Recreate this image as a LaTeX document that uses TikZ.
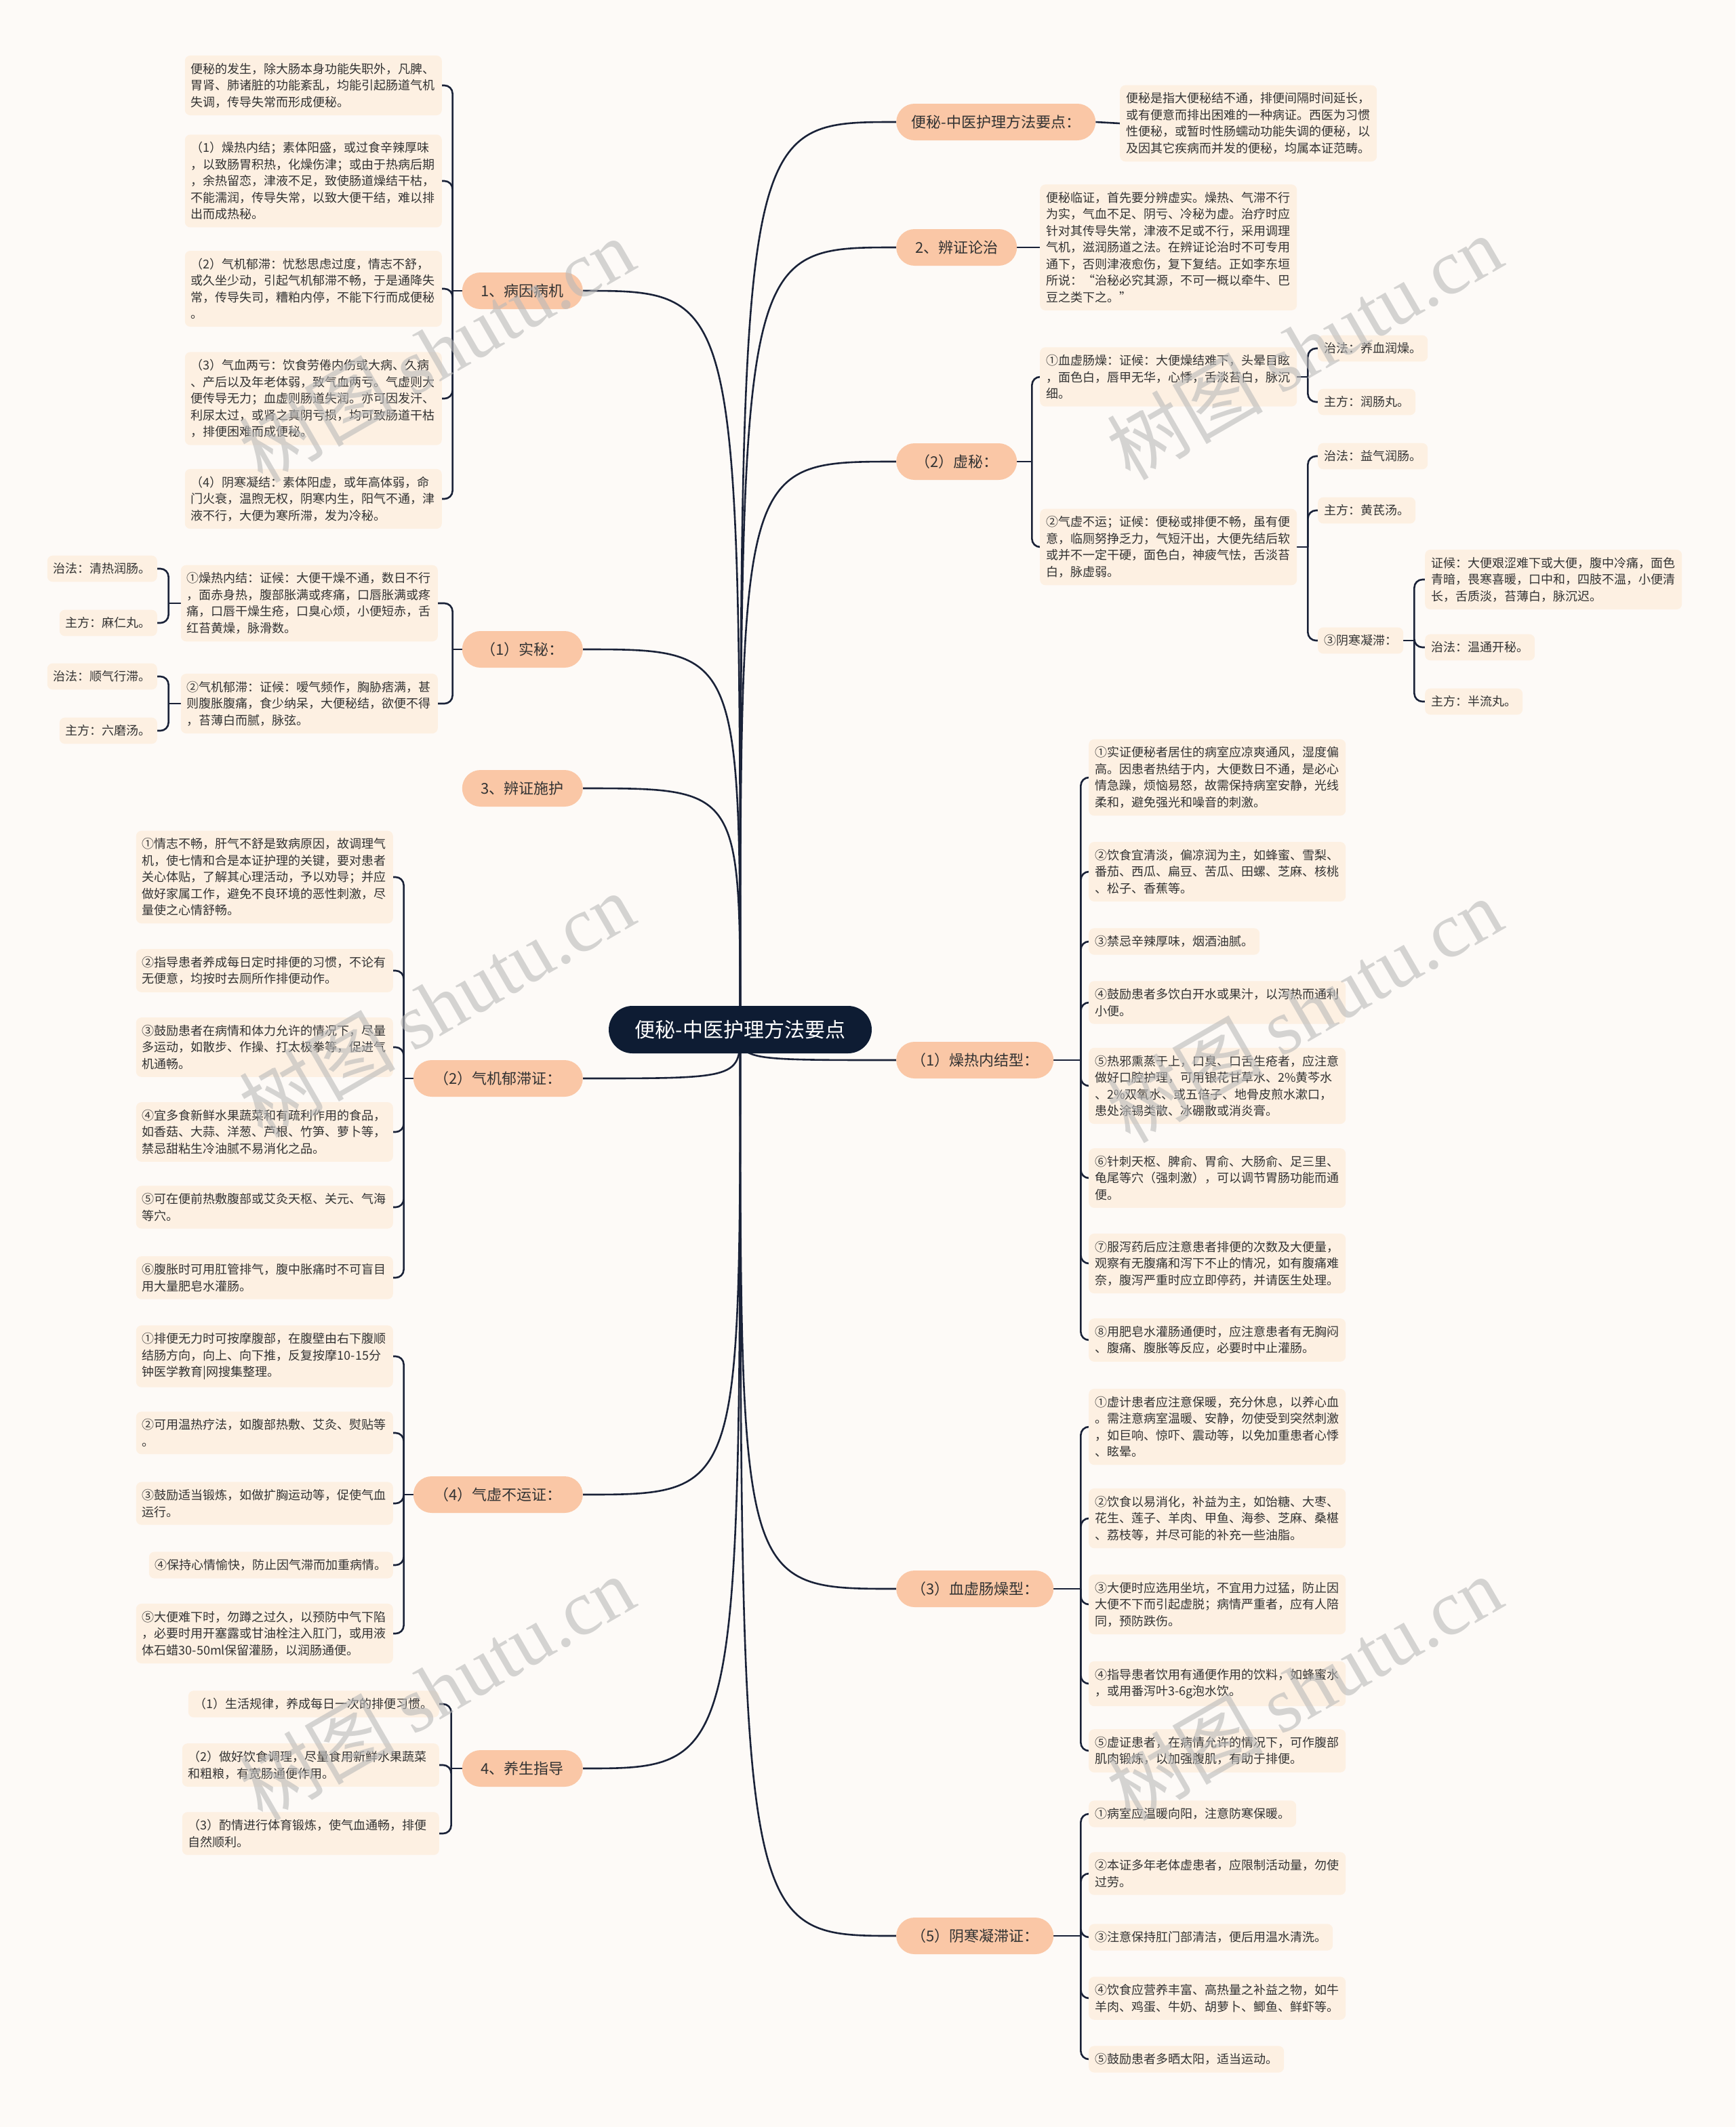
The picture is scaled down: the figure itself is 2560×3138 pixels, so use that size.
\documentclass[tikz,border=0pt]{standalone}
\usepackage{fontspec}
\setmainfont{Noto Sans CJK SC}
\newfontfamily\wmlatin{Liberation Serif}
\usetikzlibrary{calc}
\pgfdeclarelayer{bglayer}
\pgfsetlayers{bglayer,main}
\definecolor{bgc}{HTML}{FDFAF7}
\definecolor{boxfill}{HTML}{FDF0E2}
\definecolor{pillc}{HTML}{FAC7A6}
\definecolor{linec}{HTML}{1A2238}
\definecolor{centralc}{HTML}{0E1C33}
\definecolor{txtc}{HTML}{333333}
\begin{document}
\begin{tikzpicture}[x=1pt,y=-1pt,
  leaf/.style={fill=boxfill, rounded corners=8pt, inner xsep=9pt, inner ysep=11pt, font=\fontsize{18}{24.5}\selectfont, text=txtc, align=left},
  wleaf/.style={leaf, text width=361pt},
  lone/.style={fill=pillc, rounded corners=27pt, minimum height=54pt, inner sep=0pt, font=\fontsize{22}{26}\selectfont, text=txtc},
  centralnode/.style={fill=centralc, rounded corners=35pt, minimum height=70pt, minimum width=388pt, inner sep=0pt, font=\fontsize{30}{34}\selectfont, text=white},
  mainconn/.style={draw=linec, line width=2.6pt},
  brconn/.style={draw=linec, line width=2.6pt, rounded corners=12pt},
  wm/.style={text=gray!55, opacity=0.6, font=\fontsize{115}{120}\selectfont, rotate=30, inner sep=0pt}
]
\begin{pgfonlayer}{bglayer}
\fill[bgc] (0,0) rectangle (2560,3138);
\end{pgfonlayer}
\useasboundingbox (0,0) rectangle (2560,3138);

% central
\node[centralnode] (c) at (1092,1519) {便秘-中医护理方法要点};

% level 1 left
\node[lone, minimum width=178pt, anchor=east] (n1) at (860,429) {1、病因病机};
\node[lone, minimum width=178pt, anchor=east] (n2) at (860,958) {（1）实秘：};
\node[lone, minimum width=178pt, anchor=east] (n3) at (860,1163) {3、辨证施护};
\node[lone, minimum width=250pt, anchor=east] (n4) at (860,1591) {（2）气机郁滞证：};
\node[lone, minimum width=250pt, anchor=east] (n5) at (860,2205) {（4）气虚不运证：};
\node[lone, minimum width=178pt, anchor=east] (n6) at (860,2609) {4、养生指导};

% level 1 right
\node[lone, minimum width=294pt, anchor=west] (m1) at (1322,180) {便秘-中医护理方法要点：};
\node[lone, minimum width=178pt, anchor=west] (m2) at (1322,365) {2、辨证论治};
\node[lone, minimum width=178pt, anchor=west] (m3) at (1322,681) {（2）虚秘：};
\node[lone, minimum width=232pt, anchor=west] (m4) at (1322,1564) {（1）燥热内结型：};
\node[lone, minimum width=232pt, anchor=west] (m5) at (1322,2344) {（3）血虚肠燥型：};
\node[lone, minimum width=232pt, anchor=west] (m6) at (1322,2856) {（5）阴寒凝滞证：};

% 病因病机 leaves
\node[wleaf, anchor=east] (a1) at (652,126) {便秘的发生，除大肠本身功能失职外，凡脾、\\胃肾、肺诸脏的功能紊乱，均能引起肠道气机\\失调，传导失常而形成便秘。};
\node[wleaf, anchor=east] (a2) at (652,267) {（1）燥热内结；素体阳盛，或过食辛辣厚味\\，以致肠胃积热，化燥伤津；或由于热病后期\\，余热留恋，津液不足，致使肠道燥结干枯，\\不能濡润，传导失常，以致大便干结，难以排\\出而成热秘。};
\node[wleaf, anchor=east] (a3) at (652,426) {（2）气机郁滞：忧愁思虑过度，情志不舒，\\或久坐少动，引起气机郁滞不畅，于是通降失\\常，传导失司，糟粕内停，不能下行而成便秘\\。};
\node[wleaf, anchor=east] (a4) at (652,588) {（3）气血两亏：饮食劳倦内伤或大病、久病\\、产后以及年老体弱，致气血两亏。气虚则大\\便传导无力；血虚则肠道失润。亦可因发汗、\\利尿太过，或肾之真阴亏损，均可致肠道干枯\\，排便困难而成便秘。};
\node[wleaf, anchor=east] (a5) at (652,736) {（4）阴寒凝结：素体阳虚，或年高体弱，命\\门火衰，温煦无权，阴寒内生，阳气不通，津\\液不行，大便为寒所滞，发为冷秘。};

% 实秘 leaves
\node[wleaf, anchor=east] (b1) at (646,890) {①燥热内结：证候：大便干燥不通，数日不行\\，面赤身热，腹部胀满或疼痛，口唇胀满或疼\\痛，口唇干燥生疮，口臭心烦，小便短赤，舌\\红苔黄燥，脉滑数。};
\node[wleaf, anchor=east] (b2) at (646,1038) {②气机郁滞：证候：嗳气频作，胸胁痞满，甚\\则腹胀腹痛，食少纳呆，大便秘结，欲便不得\\，苔薄白而腻，脉弦。};
\node[leaf, anchor=east] (b1x) at (232,839) {治法：清热润肠。};
\node[leaf, anchor=east] (b1y) at (232,919) {主方：麻仁丸。};
\node[leaf, anchor=east] (b2x) at (232,998) {治法：顺气行滞。};
\node[leaf, anchor=east] (b2y) at (232,1078) {主方：六磨汤。};

% 气机郁滞证 leaves
\node[wleaf, anchor=east] (c1) at (580,1294) {①情志不畅，肝气不舒是致病原因，故调理气\\机，使七情和合是本证护理的关键，要对患者\\关心体贴，了解其心理活动，予以劝导；并应\\做好家属工作，避免不良环境的恶性刺激，尽\\量使之心情舒畅。};
\node[wleaf, anchor=east] (c2) at (580,1432) {②指导患者养成每日定时排便的习惯，不论有\\无便意，均按时去厕所作排便动作。};
\node[wleaf, anchor=east] (c3) at (580,1545) {③鼓励患者在病情和体力允许的情况下，尽量\\多运动，如散步、作操、打太极拳等，促进气\\机通畅。};
\node[wleaf, anchor=east] (c4) at (580,1670) {④宜多食新鲜水果蔬菜和有疏利作用的食品，\\如香菇、大蒜、洋葱、芦根、竹笋、萝卜等，\\禁忌甜粘生冷油腻不易消化之品。};
\node[wleaf, anchor=east] (c5) at (580,1781) {⑤可在便前热敷腹部或艾灸天枢、关元、气海\\等穴。};
\node[wleaf, anchor=east] (c6) at (580,1885) {⑥腹胀时可用肛管排气，腹中胀痛时不可盲目\\用大量肥皂水灌肠。};

% 气虚不运证 leaves
\node[wleaf, anchor=east] (d1) at (580,2001) {①排便无力时可按摩腹部，在腹壁由右下腹顺\\结肠方向，向上、向下推，反复按摩10-15分\\钟医学教育|网搜集整理。};
\node[wleaf, anchor=east] (d2) at (580,2114) {②可用温热疗法，如腹部热敷、艾灸、熨贴等\\。};
\node[wleaf, anchor=east] (d3) at (580,2218) {③鼓励适当锻炼，如做扩胸运动等，促使气血\\运行。};
\node[leaf, anchor=east] (d4) at (580,2309) {④保持心情愉快，防止因气滞而加重病情。};
\node[wleaf, anchor=east] (d5) at (580,2410) {⑤大便难下时，勿蹲之过久，以预防中气下陷\\，必要时用开塞露或甘油栓注入肛门，或用液\\体石蜡30-50ml保留灌肠，以润肠通便。};

% 养生指导 leaves
\node[leaf, anchor=east] (e1) at (648,2514) {（1）生活规律，养成每日一次的排便习惯。};
\node[wleaf, anchor=east] (e2) at (648,2604) {（2）做好饮食调理，尽量食用新鲜水果蔬菜\\和粗粮，有宽肠通便作用。};
\node[wleaf, anchor=east] (e3) at (648,2705) {（3）酌情进行体育锻炼，使气血通畅，排便\\自然顺利。};

% right leaves
\node[wleaf, anchor=west] (f1) at (1652,182) {便秘是指大便秘结不通，排便间隔时间延长，\\或有便意而排出困难的一种病证。西医为习惯\\性便秘，或暂时性肠蠕动功能失调的便秘，以\\及因其它疾病而并发的便秘，均属本证范畴。};
\node[wleaf, anchor=west] (g1) at (1534,365) {便秘临证，首先要分辨虚实。燥热、气滞不行\\为实，气血不足、阴亏、冷秘为虚。治疗时应\\针对其传导失常，津液不足或不行，采用调理\\气机，滋润肠道之法。在辨证论治时不可专用\\通下，否则津液愈伤，复下复结。正如李东垣\\所说：“治秘必究其源，不可一概以牵牛、巴\\豆之类下之。”};

% 虚秘 leaves
\node[wleaf, anchor=west] (h1) at (1534,556) {①血虚肠燥：证候：大便燥结难下，头晕目眩\\，面色白，唇甲无华，心悸，舌淡苔白，脉沉\\细。};
\node[wleaf, anchor=west] (h2) at (1534,807) {②气虚不运；证候：便秘或排便不畅，虽有便\\意，临厕努挣乏力，气短汗出，大便先结后软\\或并不一定干硬，面色白，神疲气怯，舌淡苔\\白，脉虚弱。};
\node[leaf, anchor=west] (h1x) at (1944,514) {治法：养血润燥。};
\node[leaf, anchor=west] (h1y) at (1944,593) {主方：润肠丸。};
\node[leaf, anchor=west] (h2x) at (1944,673) {治法：益气润肠。};
\node[leaf, anchor=west] (h2y) at (1944,753) {主方：黄芪汤。};
\node[leaf, anchor=west] (h2z) at (1944,945) {③阴寒凝滞：};
\node[wleaf, anchor=west] (y1) at (2102,855) {证候：大便艰涩难下或大便，腹中冷痛，面色\\青暗，畏寒喜暖，口中和，四肢不温，小便清\\长，舌质淡，苔薄白，脉沉迟。};
\node[leaf, anchor=west] (y2) at (2102,955) {治法：温通开秘。};
\node[leaf, anchor=west] (y3) at (2102,1035) {主方：半流丸。};

% 燥热内结型 leaves
\node[wleaf, anchor=west] (i1) at (1606,1147) {①实证便秘者居住的病室应凉爽通风，湿度偏\\高。因患者热结于内，大便数日不通，是必心\\情急躁，烦恼易怒，故需保持病室安静，光线\\柔和，避免强光和噪音的刺激。};
\node[wleaf, anchor=west] (i2) at (1606,1286) {②饮食宜清淡，偏凉润为主，如蜂蜜、雪梨、\\番茄、西瓜、扁豆、苦瓜、田螺、芝麻、核桃\\、松子、香蕉等。};
\node[leaf, anchor=west] (i3) at (1606,1389) {③禁忌辛辣厚味，烟酒油腻。};
\node[wleaf, anchor=west] (i4) at (1606,1479) {④鼓励患者多饮白开水或果汁，以泻热而通利\\小便。};
\node[wleaf, anchor=west] (i5) at (1606,1602) {⑤热邪熏蒸于上，口臭、口舌生疮者，应注意\\做好口腔护理，可用银花甘草水、2\%黄芩水\\、2\%双氧水、或五倍子、地骨皮煎水漱口，\\患处涂锡类散、冰硼散或消炎膏。};
\node[wleaf, anchor=west] (i6) at (1606,1738) {⑥针刺天枢、脾俞、胃俞、大肠俞、足三里、\\龟尾等穴（强刺激），可以调节胃肠功能而通\\便。};
\node[wleaf, anchor=west] (i7) at (1606,1864) {⑦服泻药后应注意患者排便的次数及大便量，\\观察有无腹痛和泻下不止的情况，如有腹痛难\\奈，腹泻严重时应立即停药，并请医生处理。};
\node[wleaf, anchor=west] (i8) at (1606,1977) {⑧用肥皂水灌肠通便时，应注意患者有无胸闷\\、腹痛、腹胀等反应，必要时中止灌肠。};

% 血虚肠燥型 leaves
\node[wleaf, anchor=west] (j1) at (1606,2105) {①虚计患者应注意保暖，充分休息，以养心血\\。需注意病室温暖、安静，勿使受到突然刺激\\，如巨响、惊吓、震动等，以免加重患者心悸\\、眩晕。};
\node[wleaf, anchor=west] (j2) at (1606,2240) {②饮食以易消化，补益为主，如饴糖、大枣、\\花生、莲子、羊肉、甲鱼、海参、芝麻、桑椹\\、荔枝等，并尽可能的补充一些油脂。};
\node[wleaf, anchor=west] (j3) at (1606,2367) {③大便时应选用坐坑，不宜用力过猛，防止因\\大便不下而引起虚脱；病情严重者，应有人陪\\同，预防跌伤。};
\node[wleaf, anchor=west] (j4) at (1606,2484) {④指导患者饮用有通便作用的饮料，如蜂蜜水\\，或用番泻叶3-6g泡水饮。};
\node[wleaf, anchor=west] (j5) at (1606,2583) {⑤虚证患者，在病情允许的情况下，可作腹部\\肌肉锻炼，以加强腹肌，有助于排便。};

% 阴寒凝滞证 leaves
\node[leaf, anchor=west] (k1) at (1606,2676) {①病室应温暖向阳，注意防寒保暖。};
\node[wleaf, anchor=west] (k2) at (1606,2764) {②本证多年老体虚患者，应限制活动量，勿使\\过劳。};
\node[leaf, anchor=west] (k3) at (1606,2858) {③注意保持肛门部清洁，便后用温水清洗。};
\node[wleaf, anchor=west] (k4) at (1606,2948) {④饮食应营养丰富、高热量之补益之物，如牛\\羊肉、鸡蛋、牛奶、胡萝卜、鲫鱼、鲜虾等。};
\node[leaf, anchor=west] (k5) at (1606,3038) {⑤鼓励患者多晒太阳，适当运动。};

% spine junctions
\path (n1.west) ++(-14,0) coordinate (s1);
\path (n2.west) ++(-14,0) coordinate (s2);
\path (b1.west) ++(-18,0) coordinate (sb1);
\path (b2.west) ++(-18,0) coordinate (sb2);
\path (n4.west) ++(-14,0) coordinate (s4);
\path (n5.west) ++(-14,0) coordinate (s5);
\path (n6.west) ++(-16,0) coordinate (s6);
\path (m3.east) ++(22,0) coordinate (t3);
\path (h1.east) ++(16,0) coordinate (th1);
\path (h2.east) ++(16,0) coordinate (th2);
\path (h2z.east) ++(16,0) coordinate (thz);
\path (m4.east) ++(40,0) coordinate (t4);
\path (m5.east) ++(40,0) coordinate (t5);
\path (m6.east) ++(40,0) coordinate (t6);

\begin{pgfonlayer}{bglayer}
% central curves
\foreach \n in {n1,n2,n3,n4,n5,n6}
  \draw[mainconn] (c.center) .. controls (c.center |- \n.east) .. (\n.east);
\foreach \n in {m1,m2,m3,m4,m5,m6}
  \draw[mainconn] (c.center) .. controls (c.center |- \n.west) .. (\n.west);
% straight links
\draw[mainconn] (m1.east) -- (f1.west);
\draw[mainconn] (m2.east) -- (g1.west);
% brackets
\draw[mainconn] (n1.west) -- (s1);
\foreach \x in {a1,a2,a3,a4,a5} \draw[brconn] (s1) |- (\x.east);
\draw[mainconn] (n2.west) -- (s2);
\foreach \x in {b1,b2} \draw[brconn] (s2) |- (\x.east);
\draw[mainconn] (b1.west) -- (sb1);
\foreach \x in {b1x,b1y} \draw[brconn] (sb1) |- (\x.east);
\draw[mainconn] (b2.west) -- (sb2);
\foreach \x in {b2x,b2y} \draw[brconn] (sb2) |- (\x.east);
\draw[mainconn] (n4.west) -- (s4);
\foreach \x in {c1,c2,c3,c4,c5,c6} \draw[brconn] (s4) |- (\x.east);
\draw[mainconn] (n5.west) -- (s5);
\foreach \x in {d1,d2,d3,d4,d5} \draw[brconn] (s5) |- (\x.east);
\draw[mainconn] (n6.west) -- (s6);
\foreach \x in {e1,e2,e3} \draw[brconn] (s6) |- (\x.east);
\draw[mainconn] (m3.east) -- (t3);
\foreach \x in {h1,h2} \draw[brconn] (t3) |- (\x.west);
\draw[mainconn] (h1.east) -- (th1);
\foreach \x in {h1x,h1y} \draw[brconn] (th1) |- (\x.west);
\draw[mainconn] (h2.east) -- (th2);
\foreach \x in {h2x,h2y,h2z} \draw[brconn] (th2) |- (\x.west);
\draw[mainconn] (h2z.east) -- (thz);
\foreach \x in {y1,y2,y3} \draw[brconn] (thz) |- (\x.west);
\draw[mainconn] (m4.east) -- (t4);
\foreach \x in {i1,i2,i3,i4,i5,i6,i7,i8} \draw[brconn] (t4) |- (\x.west);
\draw[mainconn] (m5.east) -- (t5);
\foreach \x in {j1,j2,j3,j4,j5} \draw[brconn] (t5) |- (\x.west);
\draw[mainconn] (m6.east) -- (t6);
\foreach \x in {k1,k2,k3,k4,k5} \draw[brconn] (t6) |- (\x.west);
\end{pgfonlayer}

% watermarks
\node[wm] (w1) at (644,516) {树图 {\wmlatin shutu.cn}};
\node[wm] (w2) at (1924,512) {树图 {\wmlatin shutu.cn}};
\node[wm] (w3) at (644,1482) {树图 {\wmlatin shutu.cn}};
\node[wm] (w4) at (1924,1490) {树图 {\wmlatin shutu.cn}};
\node[wm] (w5) at (644,2490) {树图 {\wmlatin shutu.cn}};
\node[wm] (w6) at (1924,2490) {树图 {\wmlatin shutu.cn}};
\end{tikzpicture}
\end{document}
